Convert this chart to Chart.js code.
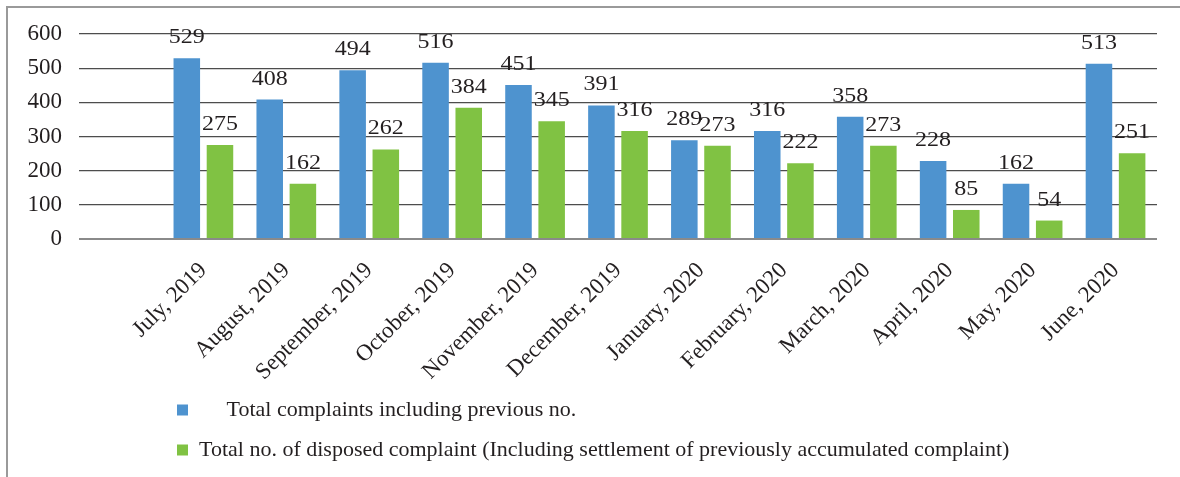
<!DOCTYPE html>
<html><head><meta charset="utf-8">
<script src="https://cdn.jsdelivr.net/npm/chart.js@4.4.1/dist/chart.umd.min.js"></script>
<style>
html,body{margin:0;padding:0;background:#fff;}
#wrap{position:relative;width:1180px;height:477px;overflow:hidden;}
#frame{position:absolute;left:6px;top:6px;width:1300px;height:600px;border-left:2px solid #9a9a9a;border-top:2px solid #9a9a9a;}
canvas{position:absolute;left:0;top:0;}
</style></head><body>
<div id="wrap"><div id="frame"></div><canvas id="c" width="1180" height="477"></canvas></div>
<script>
const categories = ['July, 2019','August, 2019','September, 2019','October, 2019','November, 2019','December, 2019','January, 2020','February, 2020','March, 2020','April, 2020','May, 2020','June, 2020'];
const totalComplaints = [529,408,494,516,451,391,289,316,358,228,162,513];
const disposedComplaints = [275,162,262,384,345,316,273,222,273,85,54,251];
const seriesNames = ['Total complaints including previous no.','Total no. of disposed complaint (Including settlement of previously accumulated complaint)'];
const yTicks = [0,100,200,300,400,500,600];

const TEXT = '#231f20';
Chart.defaults.font.family = '"Liberation Serif", "Times New Roman", serif';
Chart.defaults.color = TEXT;

// leading empty slot, as in the original chart
const labels = [''].concat(categories);
const blueData = [null].concat(totalComplaints);
const greenData = [null].concat(disposedComplaints);

const valueLabels = {
  id: 'valueLabels',
  afterDatasetsDraw(chart) {
    const ctx = chart.ctx;
    chart.data.datasets.forEach((ds, i) => {
      const meta = chart.getDatasetMeta(i);
      meta.data.forEach((el, j) => {
        const v = ds.data[j];
        if (v == null) return;
        ctx.save();
        ctx.font = '20px "Liberation Serif"';
        ctx.fillStyle = TEXT;
        ctx.textAlign = 'center';
        ctx.textBaseline = 'alphabetic';
        ctx.translate(el.x, el.y - 15);
        ctx.scale(1.2, 1);
        ctx.fillText(String(v), 0, 0);
        ctx.restore();
      });
    });
  }
};

const legendShift = {
  id: 'legendShift',
  afterLayout(chart) {
    const lg = chart.legend;
    if (lg) {
      const pad = lg.options.labels.padding;
      lg.left = 177 - pad;
    }
  }
};

new Chart(document.getElementById('c'), {
  type: 'bar',
  data: {
    labels: labels,
    datasets: [
      { label: seriesNames[0], data: blueData, backgroundColor: '#4e93cf', borderWidth: 0, categoryPercentage: 0.8, barPercentage: 0.8 },
      { label: seriesNames[1], data: greenData, backgroundColor: '#80c243', borderWidth: 0, categoryPercentage: 0.8, barPercentage: 0.8 }
    ]
  },
  options: {
    responsive: false,
    animation: false,
    layout: { padding: { top: 34, right: 23, bottom: 6, left: 0 } },
    plugins: {
      tooltip: { enabled: false },
      legend: {
        position: 'bottom',
        align: 'start',
        labels: {
          boxWidth: 11,
          boxHeight: 11,
          padding: 18,
          color: TEXT,
          font: { size: 22, family: '"Liberation Serif"' },
          generateLabels(chart) {
            const items = Chart.defaults.plugins.legend.labels.generateLabels(chart);
            items.forEach((it, k) => { it.lineWidth = 0; if (k === 0) it.text = '     ' + it.text; });
            return items;
          }
        }
      }
    },
    scales: {
      x: {
        grid: { display: false },
        border: { display: false },
        ticks: { maxRotation: 45, minRotation: 45, padding: 10, color: TEXT, font: { size: 23 }, autoSkip: false },
        afterFit(scale) { scale.height = 142; }
      },
      y: {
        min: 0, max: 600,
        afterBuildTicks(scale) { scale.ticks = yTicks.map(v => ({ value: v })); },
        grid: {
          drawTicks: false,
          color: ctx => ctx.tick && ctx.tick.value === 0 ? '#8a8a8a' : '#4d4d4d',
          lineWidth: ctx => ctx.tick && ctx.tick.value === 0 ? 2 : 1.2
        },
        border: { display: false },
        ticks: { padding: 17, color: TEXT, font: { size: 23 } },
        afterFit(scale) { scale.width = 79; }
      }
    }
  },
  plugins: [valueLabels, legendShift]
});
</script>
</body></html>
